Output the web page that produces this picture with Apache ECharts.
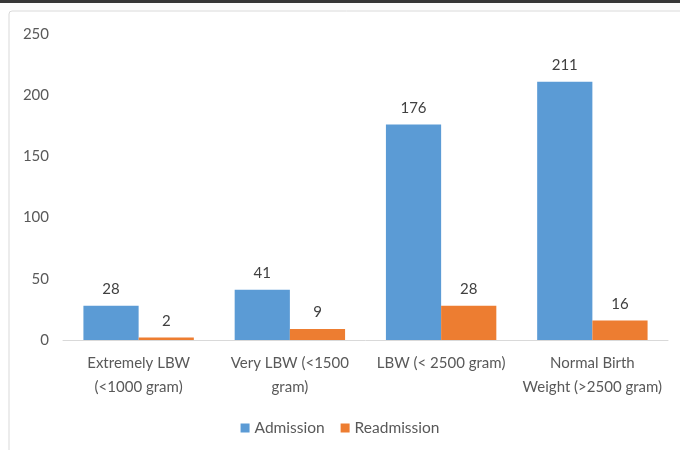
<!DOCTYPE html>
<html><head><meta charset="utf-8">
<script src="https://cdn.jsdelivr.net/npm/echarts@6/dist/echarts.min.js"></script>
<style>html,body{margin:0;padding:0;background:#fff}#c{width:680px;height:450px}</style>
</head><body><div id="c"></div>
<script>
const categories = ['Extremely LBW\n(<1000 gram)', 'Very LBW (<1500\ngram)', 'LBW (< 2500 gram)', 'Normal Birth\nWeight (>2500 gram)'];
const admission = [28, 41, 176, 211];
const readmission = [2, 9, 28, 16];
const yTicks = [0, 50, 100, 150, 200, 250];

const font = 'Lato, "Open Sans", sans-serif';
const chart = echarts.init(document.getElementById('c'));
chart.setOption({
  animation: false,
  textStyle: { fontFamily: font },
  graphic: [
    { type: 'rect', shape: { x: 0, y: 0, width: 680, height: 3 }, style: { fill: '#3a3a3a' } },
    { type: 'rect', shape: { x: 9, y: 11, width: 700, height: 460, r: 3 }, style: { fill: 'none', stroke: '#d9d9d9', lineWidth: 1 } }
  ],
  grid: { left: 63, right: 12, top: 34, bottom: 110, containLabel: false },
  legend: {
    bottom: 9, left: 'center', itemWidth: 9, itemHeight: 9, itemGap: 16,
    icon: 'rect',
    textStyle: { color: '#595959', fontSize: 15.5, fontFamily: font }
  },
  xAxis: {
    type: 'category', data: categories,
    axisLine: { lineStyle: { color: '#d9d9d9', width: 1 } },
    axisTick: { show: false },
    axisLabel: { color: '#595959', fontSize: 15, lineHeight: 24, margin: 11, interval: 0, fontFamily: font }
  },
  yAxis: {
    type: 'value', min: 0, max: 250, interval: 50,
    splitLine: { show: false },
    axisLine: { show: false }, axisTick: { show: false },
    axisLabel: { color: '#595959', fontSize: 15, margin: 14, fontFamily: font, formatter: v => yTicks.includes(v) ? String(v) : '' }
  },
  series: [
    { name: 'Admission', type: 'bar', data: admission, barGap: '0%', barCategoryGap: '27%',
      itemStyle: { color: '#5b9bd5' },
      label: { show: true, position: 'top', distance: 9, color: '#404040', fontSize: 15, fontFamily: font } },
    { name: 'Readmission', type: 'bar', data: readmission,
      itemStyle: { color: '#ed7d31' },
      label: { show: true, position: 'top', distance: 9, color: '#404040', fontSize: 15, fontFamily: font } }
  ]
});
</script></body></html>
